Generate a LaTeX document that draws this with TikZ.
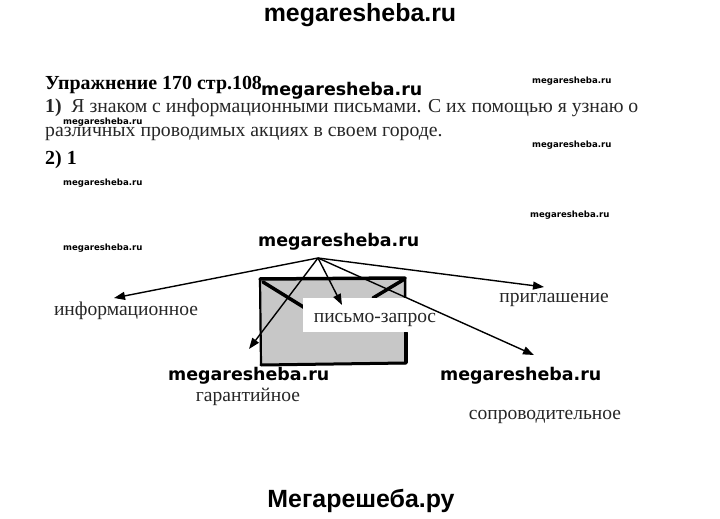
\documentclass[tikz,border=0pt]{standalone}
\usepackage{fontspec}
\setmainfont{Liberation Serif}
\newfontfamily\wmfont{DejaVu Sans}
\newfontfamily\sitefont{Liberation Sans}
\usetikzlibrary{arrows.meta}
\begin{document}
\begin{tikzpicture}[x=1bp,y=-1bp,
  wmbig/.style={font=\wmfont\bfseries\fontsize{17.5}{20}\selectfont, inner sep=0pt, anchor=base west},
  wmsmall/.style={font=\wmfont\bfseries\fontsize{8.6}{10}\selectfont, inner sep=0pt, anchor=base west},
  site/.style={font=\sitefont\bfseries\fontsize{25}{27}\selectfont, inner sep=0pt, anchor=base},
  body/.style={font=\fontsize{19.8}{22}\selectfont, text=black!85, inner sep=0pt, anchor=base west},
  head/.style={font=\bfseries\fontsize{20}{22}\selectfont, text=black, inner sep=0pt, anchor=base west},
  lbl/.style={font=\fontsize{19.6}{22}\selectfont, text=black!85, inner sep=0pt, anchor=base},
  arr/.style={-{Triangle[length=11bp,width=8bp]}, line width=1.4bp},
  edge/.style={line width=#1, line cap=round},
]
\useasboundingbox (0,0) rectangle (720,519);
\fill[white] (0,0) rectangle (720,519);

% header texts
\node[site] (topsite) at (360,22) {megaresheba.ru};
\node[head] (title) at (45,90) {Упражнение 170 стр.108};
\node[body] (line1) at (45,113) {{\bfseries 1)}\ \ Я знаком с информационными письмами. С их помощью я узнаю о};
\node[body] (line2) at (45,137) {различных проводимых акциях в своем городе.};
\node[head] (part2) at (45,165) {2) 1};

% envelope
\fill[black!22] (260,279) rectangle (405,365);
\draw[edge=2.2bp] (260,279) -- (261,365);
\draw[edge=3.5bp] (260,279) -- (405,278);
\draw[edge=3bp] (261,365) -- (406,363);
\draw[edge=2.5bp] (405,278) -- (406,363);
\draw[edge=4bp] (406,333) -- (406,362);
\draw[edge=3.5bp] (263,282) -- (305,308);
\draw[edge=3.5bp] (403,280) -- (373,298);
\fill[white] (303,298) rectangle (437,332);

% labels
\node[lbl] (inf) at (126,315) {информационное};
\node[lbl] (prig) at (554,302) {приглашение};
\node[lbl] (zapr) at (375,322) {письмо-запрос};
\node[lbl] (gar) at (248,401) {гарантийное};
\node[lbl] (sopr) at (545,419) {сопроводительное};

% arrows
\coordinate (hub) at (318,258);
\coordinate (tinf) at (114,298);
\coordinate (tgar) at (249,349);
\coordinate (tzapr) at (342,305);
\coordinate (tsopr) at (534,355);
\coordinate (tprig) at (544,287);
\draw[arr] (hub) -- (tinf);
\draw[arr] (hub) -- (tgar);
\draw[arr] (hub) -- (tzapr);
\draw[arr] (hub) -- (tsopr);
\draw[arr] (hub) -- (tprig);

% watermarks
\node[wmbig] (w1) at (261,96) {megaresheba.ru};
\node[wmbig] (w2) at (258,247) {megaresheba.ru};
\node[wmbig] (w3) at (168,380) {megaresheba.ru};
\node[wmbig] (w4) at (440,380) {megaresheba.ru};
\node[wmsmall] (s1) at (532,84) {megaresheba.ru};
\node[wmsmall] (s2) at (63,125) {megaresheba.ru};
\node[wmsmall] (s3) at (532,148) {megaresheba.ru};
\node[wmsmall] (s4) at (63,186) {megaresheba.ru};
\node[wmsmall] (s5) at (530,218) {megaresheba.ru};
\node[wmsmall] (s6) at (63,251) {megaresheba.ru};
\node[site] (botsite) at (361,507) {Мегарешеба.ру};
\end{tikzpicture}
\end{document}
